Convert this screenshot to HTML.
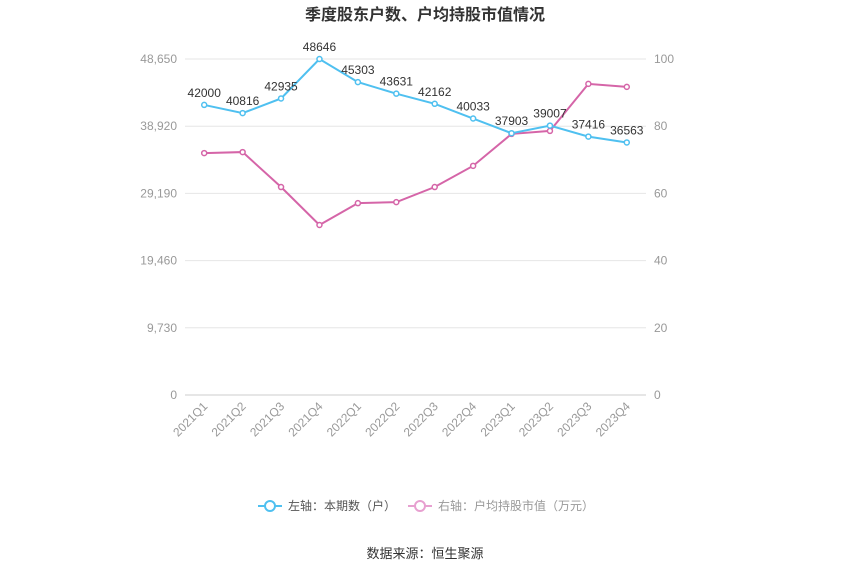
<!DOCTYPE html>
<html><head><meta charset="utf-8"><style>
body{margin:0;background:#fff;font-family:"Liberation Sans","Noto Sans CJK SC",sans-serif}
svg text{font-family:"Liberation Sans","Noto Sans CJK SC",sans-serif}
</style></head><body>
<svg id="chart" width="850" height="575">
<text x="425" y="20" text-anchor="middle" font-size="16" font-weight="bold" fill="#333">季度股东户数、户均持股市值情况</text>
<g id="grid"></g><g id="axes"></g><g id="series"></g>
<g>
<g>
<line x1="258" y1="506" x2="282" y2="506" stroke="#4fc0f0" stroke-width="2"/>
<circle cx="270" cy="506" r="5" fill="#fff" stroke="#4fc0f0" stroke-width="2"/>
<text x="288" y="510" font-size="12" fill="#555">左轴：本期数（户）</text></g>
<g>
<line x1="408" y1="506" x2="432" y2="506" stroke="#e7a0d0" stroke-width="2"/>
<circle cx="420" cy="506" r="5" fill="#fff" stroke="#e7a0d0" stroke-width="2"/>
<text x="438" y="510" font-size="12" fill="#999">右轴：户均持股市值（万元）</text></g>
</g>
<text x="425" y="558" text-anchor="middle" font-size="13" fill="#333">数据来源：恒生聚源</text>
</svg>
<script>
const categories=["2021Q1","2021Q2","2021Q3","2021Q4","2022Q1","2022Q2","2022Q3","2022Q4","2023Q1","2023Q2","2023Q3","2023Q4"];
const holders=[42000,40816,42935,48646,45303,43631,42162,40033,37903,39007,37416,36563];
const avgValue=[72.0,72.3,61.9,50.6,57.1,57.4,61.9,68.2,77.7,78.6,92.6,91.7];
const leftTicks=[0,9730,19460,29190,38920,48650];
const rightTicks=[0,20,40,60,80,100];
const NS="http://www.w3.org/2000/svg";
const X0=185,X1=646,Y0=395,Y1=59;
const bw=(X1-X0)/categories.length;
const xs=i=>X0+bw*(i+0.5);
const yl=v=>Y0-(v/48650)*(Y0-Y1);
const yr=v=>Y0-(v/100)*(Y0-Y1);
function mk(tag,attrs,parent,txt){const e=document.createElementNS(NS,tag);for(const k in attrs)e.setAttribute(k,attrs[k]);if(txt!==undefined)e.textContent=txt;parent.appendChild(e);return e;}
const grid=document.getElementById('grid'),axes=document.getElementById('axes'),ser=document.getElementById('series');
leftTicks.forEach((t,i)=>{const y=yl(t);
const g=mk('line',{x1:X0,x2:X1,y1:y,y2:y,stroke:i?'#e6e6e6':'#ccc'},grid);


const l=mk('text',{x:X0-8,y:y+4,'text-anchor':'end','font-size':12,fill:'#999'},axes,t.toLocaleString('en-US'));

});
rightTicks.forEach(t=>{const l=mk('text',{x:X1+8,y:yr(t)+4,'font-size':12,fill:'#999'},axes,String(t));

});
categories.forEach((c,i)=>{const x=xs(i);
const l=mk('text',{x:x+4,y:Y0+12,'text-anchor':'end','font-size':12,fill:'#999',transform:`rotate(-45 ${x+4} ${Y0+12})`},axes,c);

});
function line(vals,yf,color,name,labels){
const p=mk('polyline',{points:vals.map((v,i)=>xs(i)+','+yf(v)).join(' '),fill:'none',stroke:color,'stroke-width':2},ser);


vals.forEach((v,i)=>{const c=mk('circle',{cx:xs(i),cy:yf(v),r:2.5,fill:'#fff',stroke:color,'stroke-width':1.5},ser);


if(labels){const t=mk('text',{x:xs(i),y:yf(v)-8,'text-anchor':'middle','font-size':12,fill:'#333'},ser,String(v));

}});}
line(avgValue,yr,'#d565a8','avg-value',false);
line(holders,yl,'#4fc0f0','holders',true);
</script>
</body></html>
